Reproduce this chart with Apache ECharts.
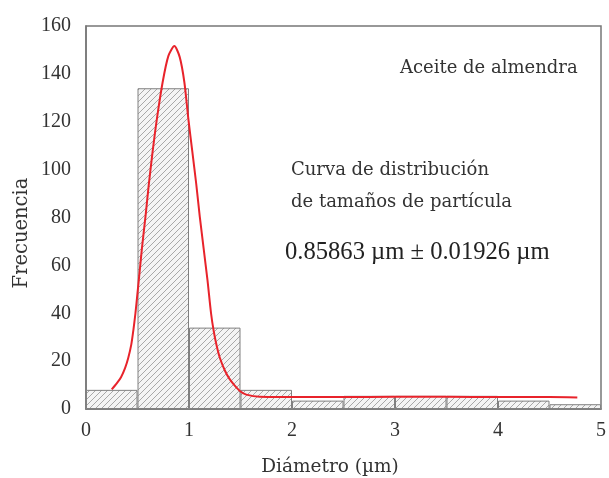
<!DOCTYPE html>
<html><head><meta charset="utf-8">
<script src="https://cdn.jsdelivr.net/npm/echarts@6/dist/echarts.min.js"></script>
<style>html,body{margin:0;padding:0;background:#fff}#c{width:609px;height:478px}</style>
</head><body><div id="c"></div>
<script>
// Histogram bins (µm) and frequencies
const binLabels = ['0-0.5','0.5-1','1-1.5','1.5-2','2-2.5','2.5-3','3-3.5','3.5-4','4-4.5','4.5-5'];
const binCounts = [8, 134, 34, 8, 3.5, 5.5, 5.5, 5.5, 3.5, 2];
// Fitted distribution curve
const curveX = [0.25,0.3,0.34,0.38,0.41,0.44,0.46,0.48,0.5,0.512,0.543,0.578,0.609,0.647,0.688,0.744,0.8,0.858,0.91,0.955,0.994,1.032,1.07,1.104,1.142,1.18,1.214,1.24,1.268,1.3,1.347,1.39,1.44,1.5,1.556,1.686,2.0,2.5,3.0,3.5,4.0,4.5,4.77];
const curveY = [8.2,10.8,13.3,17.2,21.3,27.0,33.0,40.0,48.5,53.6,67.1,80.6,93.5,107.6,121.1,136.5,147.5,151.6,147.0,136.5,121.1,107.6,94.1,80.6,67.1,53.6,40.0,32.5,26.5,21.3,16.2,12.8,10.0,7.3,6.0,5.1,5.0,5.0,5.1,5.1,5.0,5.0,4.8];
const yTicks = [0,20,40,60,80,100,120,140,160];
const xTicks = [0,1,2,3,4,5];

const serif = '"Liberation Serif","DejaVu Serif",serif';
const wide = '"DejaVu Serif","Liberation Serif",serif';
// hatch pattern
const pc = document.createElement('canvas');
pc.width = 6; pc.height = 6;
const g = pc.getContext('2d');
g.fillStyle = '#f4f4f4'; g.fillRect(0,0,6,6);
g.strokeStyle = '#a8a8a8'; g.lineWidth = 1;
g.beginPath();
g.moveTo(-1,7); g.lineTo(7,-1);
g.moveTo(-4,4); g.lineTo(4,-4);
g.moveTo(2,10); g.lineTo(10,2);
g.stroke();

const chart = echarts.init(document.getElementById('c'), null, {renderer:'canvas'});
chart.setOption({
  animation:false,
  backgroundColor:'#fff',
  grid:{left:86,right:8,top:26,bottom:69,outerBoundsMode:'none',containLabel:false,show:true,borderColor:'#777',borderWidth:1.5,backgroundColor:'transparent'},
  xAxis:[{
    type:'value',min:xTicks[0],max:xTicks[xTicks.length-1],interval:1,
    axisLine:{show:true,lineStyle:{color:'#777',width:1.5}},
    axisTick:{show:false},
    axisLabel:{fontFamily:serif,fontSize:20,color:'#333',margin:12},
    splitLine:{show:false}
  },{
    type:'category',data:binLabels,show:false,boundaryGap:true,position:'bottom'
  }],
  yAxis:{
    type:'value',min:yTicks[0],max:yTicks[yTicks.length-1],interval:20,
    axisLine:{show:true,lineStyle:{color:'#777',width:1.5}},
    axisTick:{show:false},
    axisLabel:{fontFamily:serif,fontSize:20,color:'#333',margin:15},
    splitLine:{show:false}
  },
  series:[{
    type:'bar',xAxisIndex:1,data:binCounts,barCategoryGap:'0%',
    itemStyle:{color:{image:pc,repeat:'repeat'},borderColor:'#808080',borderWidth:1},
    z:2
  },{
    type:'line',xAxisIndex:0,data:curveX.map((x,i)=>[x,curveY[i]]),
    smooth:0.25,showSymbol:false,symbol:'none',
    lineStyle:{color:'#e8232b',width:2},z:3
  }],
  graphic:[
    {type:'text',x:330,y:467,style:{text:'Diámetro (µm)',font:'18.5px '+wide,fill:'#333',align:'center',verticalAlign:'middle'}},
    {type:'text',x:22,y:233,rotation:Math.PI/2,style:{text:'Frecuencia',font:'19.5px '+wide,fill:'#333',align:'center',verticalAlign:'middle'}},
    {type:'text',x:400,y:68,style:{text:'Aceite de almendra',font:'18px '+wide,fill:'#333',verticalAlign:'middle'}},
    {type:'text',x:291,y:170,style:{text:'Curva de distribución',font:'18px '+wide,fill:'#333',verticalAlign:'middle'}},
    {type:'text',x:291,y:202,style:{text:'de tamaños de partícula',font:'18px '+wide,fill:'#333',verticalAlign:'middle'}},
    {type:'text',x:285,y:253,style:{text:'0.85863 µm ± 0.01926 µm',font:'24.6px '+serif,fill:'#222',verticalAlign:'middle'}}
  ]
});
</script></body></html>
